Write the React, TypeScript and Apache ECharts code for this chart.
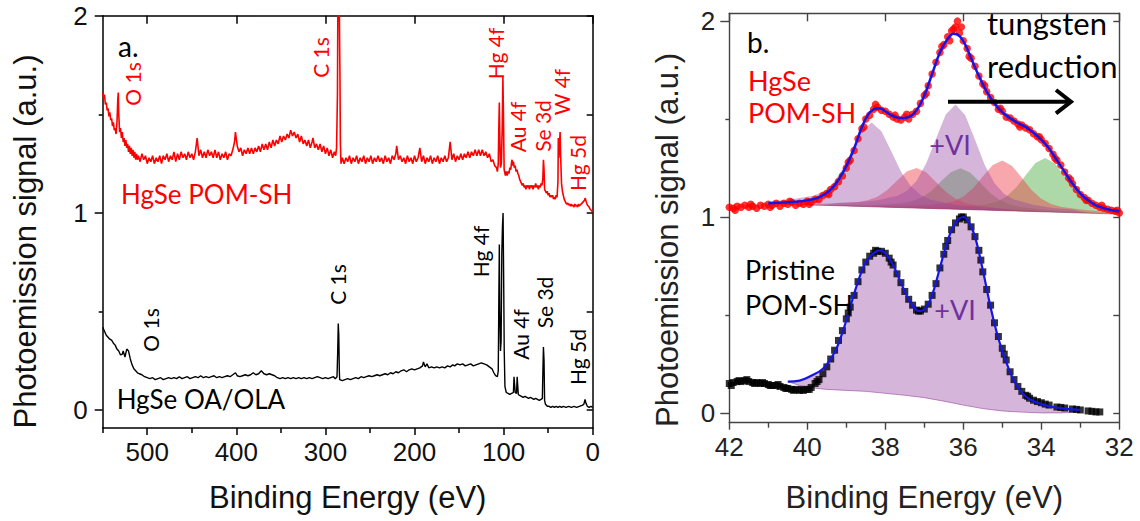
import React, { useEffect, useRef } from "react";
import * as echarts from "echarts";

// ---------- Panel a: survey spectra (binding energy eV, signal a.u.) ----------
const surveyPOM: [number, number][] = [
  [550,1.61],[549,1.58],[548,1.60],[547,1.55],[546,1.56],[545,1.52],[544,1.53],[543,1.49],[542,1.51],[541,1.47],[540,1.48],[539,1.44],[538,1.46],[537,1.42],[536,1.43],[535,1.40],[534,1.46],[533,1.58],[532.5,1.61],[532,1.50],[531,1.41],[530,1.43],[529,1.38],[528,1.41],[527,1.36],[526,1.38],[525,1.34],[524,1.37],[523,1.33],[522,1.35],[521,1.31],[520,1.34],[519,1.30],[518,1.33],[517,1.29],[516,1.32],[515,1.28],[514,1.31],[513,1.27],[512,1.30],[511,1.27],[510,1.29],[508,1.26],[506,1.30],[504,1.27],[502,1.29],[500,1.25],[498,1.28],[496,1.26],[494,1.29],[492,1.25],[490,1.28],[488,1.26],[486,1.29],[484,1.25],[482,1.29],[480,1.27],[478,1.30],[476,1.26],[474,1.29],[472,1.27],[470,1.31],[468,1.26],[466,1.30],[464,1.27],[462,1.31],[460,1.28],[458,1.30],[456,1.27],[454,1.31],[452,1.28],[450,1.30],[448,1.27],[446,1.31],[444,1.38],[442,1.29],[440,1.32],[438,1.28],[436,1.31],[434,1.28],[432,1.32],[430,1.29],[428,1.31],[426,1.28],[424,1.32],[422,1.28],[420,1.31],[418,1.27],[416,1.30],[414,1.28],[412,1.31],[410,1.27],[408,1.30],[406,1.29],[404,1.32],[402,1.36],[401,1.41],[399,1.34],[397,1.31],[395,1.33],[393,1.29],[391,1.32],[389,1.30],[387,1.33],[385,1.30],[383,1.33],[381,1.30],[379,1.33],[377,1.31],[375,1.34],[373,1.31],[371,1.35],[369,1.32],[367,1.35],[365,1.32],[363,1.36],[361,1.33],[359,1.37],[357,1.34],[355,1.37],[353,1.35],[351,1.39],[349,1.36],[347,1.39],[345,1.37],[343,1.40],[341,1.38],[339,1.42],[337,1.39],[335,1.41],[333,1.38],[331,1.40],[329,1.36],[327,1.39],[325,1.35],[323,1.37],[321,1.34],[319,1.37],[317,1.33],[315,1.36],[314,1.38],[312,1.33],[310,1.35],[308,1.32],[306,1.35],[304,1.31],[302,1.34],[300,1.30],[298,1.33],[296,1.29],[294,1.32],[292,1.28],[290,1.31],[288.5,1.29],[287.5,1.33],[286.5,1.6],[285.8,2.3],[285,2.3],[284.3,2.3],[283.7,1.7],[283.2,1.35],[282.5,1.25],[281,1.28],[279,1.25],[277,1.28],[275,1.26],[273,1.29],[271,1.25],[269,1.28],[267,1.26],[265,1.29],[263,1.25],[261,1.28],[259,1.26],[257,1.29],[255,1.25],[253,1.28],[251,1.26],[249,1.29],[247,1.25],[245,1.28],[243,1.26],[241,1.29],[239,1.26],[237,1.28],[235,1.25],[233,1.29],[231,1.26],[229,1.28],[227,1.25],[225,1.29],[223,1.27],[221,1.30],[220,1.34],[218,1.27],[216,1.29],[214,1.26],[212,1.28],[210,1.25],[208,1.29],[206,1.26],[204,1.28],[202,1.25],[200,1.29],[198,1.26],[196,1.28],[194,1.33],[192,1.26],[190,1.29],[188,1.25],[186,1.28],[184,1.26],[182,1.29],[180,1.25],[178,1.28],[176,1.26],[174,1.29],[172,1.25],[170,1.28],[168,1.26],[166,1.29],[164,1.26],[162,1.28],[160,1.36],[158,1.27],[156,1.30],[154,1.26],[152,1.29],[150,1.27],[148,1.30],[146,1.27],[144,1.30],[142,1.28],[140,1.31],[138,1.28],[136,1.31],[134,1.29],[132,1.32],[130,1.29],[128,1.32],[126,1.29],[124,1.32],[122,1.29],[120,1.31],[118,1.28],[116,1.30],[114,1.26],[112,1.27],[110,1.24],[108,1.23],[107,1.21],[106,1.25],[105.3,1.45],[104.8,1.56],[104.3,1.40],[103.5,1.23],[102.5,1.25],[101.5,1.45],[100.8,1.69],[100.2,1.50],[99.4,1.22],[98,1.19],[97,1.21],[96,1.19],[95,1.21],[94,1.20],[93,1.23],[92,1.22],[91,1.26],[90.5,1.27],[90,1.24],[89,1.26],[88,1.23],[87,1.24],[86,1.21],[85,1.22],[84,1.20],[83,1.19],[82,1.17],[81,1.16],[80,1.15],[79,1.14],[78,1.15],[77,1.13],[76,1.14],[75,1.12],[74,1.14],[73,1.13],[72,1.14],[71,1.12],[70,1.14],[69,1.13],[68,1.14],[67,1.12],[66,1.14],[65,1.13],[64,1.15],[63,1.13],[62,1.14],[61,1.12],[60,1.14],[59,1.13],[58,1.15],[57,1.14],[56,1.17],[55.3,1.27],[54.6,1.22],[54,1.12],[53,1.11],[52,1.10],[51,1.11],[50,1.09],[49,1.10],[48,1.08],[47,1.09],[46,1.08],[45,1.09],[44,1.07],[43,1.08],[42,1.07],[41,1.09],[40,1.08],[39,1.16],[38.6,1.38],[38,1.28],[37.2,1.36],[36.6,1.41],[36,1.29],[35,1.15],[34,1.11],[33,1.09],[32,1.07],[31,1.06],[30,1.05],[29,1.045],[28,1.05],[27,1.04],[26,1.045],[25,1.035],[24,1.045],[23,1.035],[22,1.04],[21,1.03],[20,1.045],[19,1.035],[18,1.04],[17,1.03],[16,1.045],[15,1.035],[14,1.04],[13,1.045],[12,1.05],[11,1.055],[10,1.06],[9,1.065],[8.6,1.075],[8,1.07],[7.5,1.06],[6,1.04],[5,1.035],[4,1.03],[3,1.02],[2,1.015],[1,1.01],[0,1.005],
];

const surveyOA: [number, number][] = [
  [550,0.42],[548,0.40],[546,0.38],[544,0.37],[542,0.36],[540,0.355],[538,0.34],[536,0.33],[534,0.31],[532,0.30],[530,0.28],[528,0.285],[527,0.30],[525,0.27],[523,0.31],[521,0.30],[519,0.26],[517,0.23],[515,0.21],[513,0.20],[511,0.19],[509,0.185],[506,0.18],[503,0.17],[500,0.165],[497,0.16],[494,0.165],[491,0.155],[488,0.16],[485,0.165],[482,0.155],[479,0.16],[476,0.165],[473,0.16],[470,0.165],[467,0.16],[464,0.17],[461,0.16],[458,0.165],[455,0.17],[452,0.16],[449,0.165],[446,0.17],[443,0.165],[440,0.175],[437,0.165],[434,0.17],[431,0.165],[428,0.17],[425,0.175],[422,0.165],[419,0.17],[416,0.165],[413,0.17],[410,0.175],[407,0.17],[404,0.18],[401,0.19],[399,0.175],[396,0.17],[393,0.175],[390,0.18],[387,0.175],[384,0.18],[381,0.19],[378,0.18],[375,0.185],[372,0.2],[369,0.185],[366,0.18],[363,0.185],[360,0.18],[357,0.175],[354,0.165],[351,0.16],[348,0.165],[345,0.16],[342,0.165],[339,0.16],[336,0.165],[333,0.16],[330,0.165],[327,0.16],[324,0.165],[321,0.16],[318,0.165],[315,0.16],[312,0.165],[309,0.17],[306,0.165],[303,0.16],[300,0.165],[297,0.16],[294,0.165],[291,0.17],[289,0.16],[287,0.17],[286.2,0.30],[285.6,0.44],[285,0.38],[284.4,0.2],[284,0.155],[281,0.15],[278,0.155],[275,0.16],[272,0.155],[269,0.16],[266,0.165],[263,0.16],[260,0.17],[257,0.165],[254,0.17],[251,0.175],[248,0.17],[245,0.175],[242,0.18],[239,0.175],[236,0.18],[233,0.185],[230,0.18],[227,0.19],[224,0.185],[221,0.195],[218,0.19],[215,0.2],[212,0.205],[209,0.195],[206,0.205],[203,0.21],[200,0.205],[197,0.21],[194,0.215],[191,0.225],[190,0.245],[188,0.22],[186,0.235],[184,0.215],[181,0.22],[178,0.215],[175,0.22],[172,0.215],[169,0.22],[166,0.215],[163,0.225],[160,0.22],[157,0.23],[155,0.225],[152,0.235],[149,0.23],[146,0.235],[143,0.225],[140,0.23],[137,0.235],[134,0.225],[131,0.23],[128,0.235],[125,0.24],[122,0.235],[119,0.23],[116,0.22],[113,0.21],[111,0.19],[109,0.175],[107,0.17],[106,0.2],[105.3,0.6],[104.8,0.84],[104.3,0.5],[103.5,0.3],[102.8,0.35],[102,0.8],[101.3,0.93],[100.6,1.0],[100,0.7],[99.3,0.3],[98.5,0.12],[97,0.09],[95,0.085],[93,0.08],[91,0.085],[89,0.09],[88.3,0.17],[87.7,0.17],[87,0.09],[85.5,0.085],[84.8,0.17],[84.2,0.17],[83.5,0.08],[82,0.075],[80,0.07],[78,0.065],[76,0.07],[74,0.065],[72,0.06],[70,0.065],[68,0.06],[66,0.055],[64,0.06],[62,0.055],[60,0.05],[58,0.055],[56.5,0.06],[56,0.18],[55.3,0.32],[54.6,0.25],[54,0.05],[53,0.03],[51,0.02],[49,0.02],[47,0.015],[45,0.02],[43,0.015],[41,0.02],[39,0.015],[37,0.02],[35,0.015],[33,0.02],[30,0.015],[27,0.02],[24,0.015],[21,0.02],[18,0.015],[15,0.02],[12,0.025],[10,0.03],[8.6,0.055],[7.5,0.035],[6,0.02],[4,0.015],[2,0.02],[0,0.015],
];

// ---------- Panel b: W 4f region ----------
const w4fPOMData: [number, number][] = [
  [42.0,1.05],[41.9,1.045],[41.8,1.055],[41.7,1.05],[41.6,1.06],[41.5,1.05],[41.4,1.055],[41.3,1.045],[41.2,1.06],[41.1,1.055],[41.0,1.065],[40.9,1.06],[40.8,1.07],[40.7,1.055],[40.6,1.07],[40.5,1.065],[40.4,1.075],[40.3,1.06],[40.2,1.07],[40.1,1.065],[40.0,1.08],[39.9,1.075],[39.8,1.09],[39.7,1.09],[39.6,1.11],[39.5,1.12],[39.4,1.14],[39.3,1.155],[39.2,1.18],[39.1,1.21],[39.0,1.25],[38.9,1.29],[38.8,1.34],[38.7,1.40],[38.6,1.45],[38.5,1.50],[38.4,1.52],[38.3,1.55],[38.2,1.56],[38.1,1.545],[38.0,1.54],[37.9,1.525],[37.8,1.51],[37.7,1.50],[37.6,1.495],[37.5,1.51],[37.4,1.50],[37.3,1.525],[37.2,1.54],[37.1,1.58],[37.0,1.62],[36.9,1.67],[36.8,1.73],[36.7,1.79],[36.6,1.84],[36.5,1.88],[36.4,1.92],[36.35,1.90],[36.3,1.95],[36.25,1.96],[36.2,1.97],[36.15,2.0],[36.1,1.94],[36.05,1.97],[36.0,1.90],[35.9,1.86],[35.8,1.81],[35.7,1.77],[35.6,1.72],[35.5,1.68],[35.4,1.64],[35.3,1.61],[35.2,1.585],[35.1,1.55],[35.0,1.54],[34.9,1.51],[34.8,1.505],[34.7,1.49],[34.6,1.475],[34.5,1.47],[34.4,1.455],[34.3,1.445],[34.2,1.425],[34.1,1.41],[34.0,1.395],[33.9,1.375],[33.8,1.35],[33.7,1.32],[33.6,1.29],[33.5,1.265],[33.4,1.23],[33.3,1.20],[33.2,1.17],[33.1,1.14],[33.0,1.115],[32.9,1.10],[32.8,1.085],[32.7,1.07],[32.6,1.06],[32.5,1.05],[32.4,1.045],[32.3,1.04],[32.2,1.035],[32.1,1.03],[32.0,1.02],
  [41.85,1.035],[41.45,1.065],[40.95,1.05],[40.45,1.08],[39.95,1.065],[39.45,1.115],[38.95,1.28],[38.55,1.46],[38.25,1.575],[37.75,1.52],[37.45,1.525],[36.95,1.63],[36.55,1.87],[35.85,1.82],[35.45,1.67],[35.05,1.555],[34.55,1.46],[34.05,1.41],[33.65,1.30],[33.25,1.19],[32.85,1.085],[32.45,1.06],[32.05,1.035],
];

const w4fPOMFit: [number, number][] = [
  [41.0,1.07],[40.5,1.075],[40.0,1.085],[39.7,1.10],[39.4,1.14],[39.2,1.19],[39.0,1.26],[38.8,1.35],[38.6,1.46],[38.45,1.52],[38.3,1.55],[38.15,1.555],[38.0,1.54],[37.8,1.515],[37.6,1.505],[37.4,1.51],[37.2,1.545],[37.0,1.62],[36.8,1.73],[36.6,1.84],[36.4,1.91],[36.25,1.935],[36.1,1.925],[35.95,1.88],[35.8,1.81],[35.6,1.72],[35.4,1.64],[35.2,1.58],[35.0,1.535],[34.8,1.505],[34.6,1.48],[34.4,1.46],[34.2,1.43],[34.0,1.395],[33.8,1.35],[33.6,1.29],[33.4,1.23],[33.2,1.17],[33.0,1.12],[32.8,1.085],[32.6,1.06],[32.4,1.045],[32.2,1.035],[32.0,1.03],
];

const w4fPOMBaseline: [number, number][] = [[40.5,1.065],[32.0,1.015]];

// fitted components (absolute values incl. background)
const compW6a: [number, number][] = [[41.0,1.068],[40.85,1.082],[40.35,1.092],[39.85,1.108],[39.6,1.129],[39.35,1.170],[39.1,1.242],[38.85,1.343],[38.6,1.441],[38.35,1.482],[38.1,1.438],[37.85,1.337],[37.6,1.233],[37.35,1.158],[37.1,1.114],[36.85,1.090],[36.35,1.068],[35.85,1.054],[35.35,1.047],[34.85,1.040],[34.5,1.030]];
const compW6b: [number, number][] = [[39.6,1.060],[39.2,1.073],[38.7,1.075],[38.2,1.086],[37.7,1.107],[37.45,1.133],[37.2,1.184],[36.95,1.274],[36.7,1.400],[36.45,1.523],[36.2,1.575],[35.95,1.520],[35.7,1.395],[35.45,1.265],[35.2,1.173],[34.95,1.118],[34.7,1.090],[34.2,1.063],[33.7,1.046],[33.2,1.038],[32.8,1.020]];
const compW5a: [number, number][] = [[40.6,1.065],[40.2,1.069],[39.7,1.068],[39.2,1.070],[38.7,1.077],[38.45,1.086],[38.2,1.104],[37.95,1.138],[37.7,1.185],[37.45,1.232],[37.2,1.250],[36.95,1.229],[36.7,1.179],[36.45,1.129],[36.2,1.093],[35.95,1.071],[35.7,1.060],[35.2,1.047],[34.7,1.039],[34.2,1.034],[33.8,1.026]];
const compW5b: [number, number][] = [[38.4,1.053],[38.0,1.058],[37.5,1.057],[37.0,1.061],[36.5,1.069],[36.25,1.081],[36.0,1.105],[35.75,1.147],[35.5,1.207],[35.25,1.264],[35.0,1.288],[34.75,1.261],[34.5,1.201],[34.25,1.138],[34.0,1.093],[33.75,1.066],[33.5,1.052],[33.0,1.038],[32.5,1.028],[32.0,1.023],[32.0,1.015]];
const compW4a: [number, number][] = [[39.5,1.059],[39.07,1.062],[38.57,1.061],[38.07,1.064],[37.57,1.070],[37.32,1.080],[37.07,1.099],[36.82,1.133],[36.57,1.182],[36.32,1.229],[36.07,1.249],[35.82,1.226],[35.57,1.177],[35.32,1.124],[35.07,1.088],[34.82,1.065],[34.57,1.053],[34.07,1.041],[33.57,1.032],[33.07,1.027],[32.6,1.019]];
const compW4b: [number, number][] = [[37.3,1.047],[36.9,1.052],[36.4,1.052],[35.9,1.056],[35.4,1.065],[35.15,1.078],[34.9,1.104],[34.65,1.149],[34.4,1.213],[34.15,1.276],[33.9,1.301],[33.65,1.273],[33.4,1.207],[33.15,1.140],[32.9,1.092],[32.65,1.063],[32.4,1.047],[32.0,1.035],[32.0,1.015]];

const w4fPristineData: [number, number][] = [
  [42.0,0.15],[41.9,0.155],[41.8,0.16],[41.7,0.16],[41.6,0.165],[41.5,0.16],[41.4,0.155],[41.3,0.155],[41.2,0.15],[41.1,0.15],[41.0,0.145],[40.9,0.14],[40.8,0.14],[40.7,0.135],[40.6,0.13],[40.5,0.125],[40.4,0.12],[40.3,0.12],[40.2,0.115],[40.1,0.115],[40.0,0.12],[39.9,0.13],[39.8,0.15],[39.7,0.17],[39.6,0.20],[39.5,0.235],[39.4,0.275],[39.3,0.32],[39.2,0.37],[39.1,0.42],[39.0,0.48],[38.9,0.54],[38.8,0.60],[38.7,0.67],[38.6,0.73],[38.5,0.77],[38.4,0.80],[38.3,0.815],[38.2,0.825],[38.1,0.825],[38.0,0.815],[37.9,0.79],[37.8,0.755],[37.7,0.71],[37.6,0.665],[37.5,0.62],[37.4,0.58],[37.3,0.55],[37.2,0.525],[37.1,0.52],[37.0,0.53],[36.9,0.555],[36.8,0.60],[36.7,0.66],[36.6,0.74],[36.5,0.81],[36.4,0.88],[36.3,0.935],[36.2,0.97],[36.1,0.99],[36.0,1.0],[35.9,0.985],[35.8,0.95],[35.7,0.90],[35.6,0.83],[35.5,0.72],[35.4,0.63],[35.3,0.55],[35.2,0.46],[35.1,0.39],[35.0,0.33],[34.9,0.27],[34.8,0.21],[34.7,0.17],[34.6,0.135],[34.5,0.11],[34.4,0.09],[34.3,0.075],[34.2,0.065],[34.1,0.058],[34.0,0.052],[33.8,0.04],[33.6,0.03],[33.4,0.025],[33.2,0.02],[33.0,0.015],[32.8,0.01],[32.6,0.005],[32.5,0.005],
  [41.95,0.14],[41.75,0.165],[41.55,0.17],[41.35,0.15],[41.15,0.155],[40.95,0.14],[40.75,0.145],[40.55,0.125],[40.35,0.115],[40.15,0.12],[39.95,0.12],[39.75,0.16],[38.95,0.51],[38.25,0.83],[37.85,0.77],[37.15,0.52],[36.45,0.85],[36.05,1.0],[35.55,0.78],[34.95,0.30],[34.35,0.085],[33.9,0.045],[33.5,0.028],[33.1,0.018],[32.7,0.008],
];

const w4fPristineFit: [number, number][] = [
  [40.5,0.16],[40.2,0.165],[39.9,0.19],[39.6,0.225],[39.3,0.31],[39.1,0.41],[38.9,0.54],[38.7,0.67],[38.5,0.77],[38.3,0.815],[38.15,0.83],[38.0,0.815],[37.8,0.755],[37.6,0.665],[37.4,0.58],[37.2,0.525],[37.1,0.52],[36.95,0.54],[36.8,0.60],[36.6,0.74],[36.4,0.88],[36.2,0.97],[36.0,1.0],[35.85,0.97],[35.7,0.90],[35.5,0.73],[35.3,0.54],[35.1,0.38],[34.9,0.26],[34.7,0.165],[34.5,0.105],[34.3,0.07],[34.0,0.045],[33.7,0.03],[33.4,0.022],[33.0,0.015],
];

const w4fPristineBaseline: [number, number][] = [
  [40.5,0.16],[40.2,0.14],[39.9,0.128],[39.5,0.12],[39.0,0.115],[38.5,0.11],[38.0,0.10],[37.5,0.09],[37.0,0.078],[36.5,0.06],[36.0,0.04],[35.5,0.022],[35.0,0.01],[34.5,0.004],[34.0,0.0],[33.5,0.0],[33.0,0.005],
];

// axis tick values
const surveyMajorTicks = [0, 100, 200, 300, 400, 500];
const surveyMinorTicks = [50, 150, 250, 350, 450, 550];
const w4fMajorTicks = [32, 34, 36, 38, 40, 42];
const w4fMinorTicks = [33, 35, 37, 39, 41];
const yMajorTicks = [0, 1, 2];
const yMinorTicks = [0.5, 1.5];
const yAllTicks = [0, 0.5, 1, 1.5, 2];

const PURPLE = "rgba(150,70,160,0.4)";
const RED_FILL = "rgba(240,60,70,0.45)";
const GREEN_FILL = "rgba(70,170,60,0.45)";

// drawn in this order: green, red, purple (purple on top)
const components = [
  { pts: compW4a, fill: GREEN_FILL },
  { pts: compW4b, fill: GREEN_FILL },
  { pts: compW5a, fill: RED_FILL },
  { pts: compW5b, fill: RED_FILL },
  { pts: compW6a, fill: PURPLE },
  { pts: compW6b, fill: PURPLE },
  { pts: [...w4fPristineFit, ...w4fPristineBaseline.slice().reverse()], fill: PURPLE },
];

const AXIS_FONT = "'Liberation Sans', Arial, sans-serif";
const NOTE_FONT = "Lato, 'Open Sans', sans-serif";

function App() {
  const ref = useRef<HTMLDivElement>(null);

  useEffect(() => {
    if (!ref.current) return;
    const chart = echarts.init(ref.current, undefined, { renderer: "svg" });

    const frameA = { lineStyle: { color: "#000", width: 1.5 } };
    const frameB = { lineStyle: { color: "#444", width: 1.4 } };
    const lbl = (vals: number[], color: string) => ({
      show: true,
      customValues: vals,
      fontSize: 26,
      fontFamily: AXIS_FONT,
      color,
    });

    const xAxes: any[] = [
      { gridIndex: 0, type: "value", min: 0, max: 550, inverse: true, position: "bottom",
        axisLine: { show: true, onZero: false, ...frameA },
        axisTick: { show: true, customValues: surveyMajorTicks, length: 7, ...frameA },
        axisLabel: { ...lbl(surveyMajorTicks, "#111"), margin: 11 },
        splitLine: { show: false } },
      { gridIndex: 0, type: "value", min: 0, max: 550, inverse: true, position: "bottom",
        axisLine: { show: false, onZero: false },
        axisTick: { show: true, customValues: surveyMinorTicks, length: 5, ...frameA },
        axisLabel: { show: false }, splitLine: { show: false } },
      { gridIndex: 0, type: "value", min: 0, max: 550, inverse: true, position: "top",
        axisLine: { show: true, onZero: false, ...frameA },
        axisTick: { show: true, inside: true, customValues: surveyMajorTicks, length: 8, ...frameA },
        axisLabel: { show: false }, splitLine: { show: false } },
      { gridIndex: 1, type: "value", min: 32, max: 42, inverse: true, position: "bottom",
        axisLine: { show: true, onZero: false, ...frameB },
        axisTick: { show: true, customValues: w4fMajorTicks, length: 7, ...frameB },
        axisLabel: { ...lbl(w4fMajorTicks, "#222"), margin: 11 },
        splitLine: { show: false } },
      { gridIndex: 1, type: "value", min: 32, max: 42, inverse: true, position: "bottom",
        axisLine: { show: false, onZero: false },
        axisTick: { show: true, customValues: w4fMinorTicks, length: 5, ...frameB },
        axisLabel: { show: false }, splitLine: { show: false } },
      { gridIndex: 1, type: "value", min: 32, max: 42, inverse: true, position: "top",
        axisLine: { show: true, onZero: false, ...frameB },
        axisTick: { show: true, inside: true, customValues: w4fMajorTicks, length: 8, ...frameB },
        axisLabel: { show: false }, splitLine: { show: false } },
    ];

    const yAxes: any[] = [
      { gridIndex: 0, type: "value", min: -0.09, max: 2, position: "left",
        axisLine: { show: true, onZero: false, ...frameA },
        axisTick: { show: true, customValues: yMajorTicks, length: 8, ...frameA },
        axisLabel: { ...lbl(yMajorTicks, "#111"), margin: 15 },
        splitLine: { show: false } },
      { gridIndex: 0, type: "value", min: -0.09, max: 2, position: "left",
        axisLine: { show: false, onZero: false },
        axisTick: { show: true, customValues: yMinorTicks, length: 4, ...frameA },
        axisLabel: { show: false }, splitLine: { show: false } },
      { gridIndex: 0, type: "value", min: -0.09, max: 2, position: "right",
        axisLine: { show: true, onZero: false, ...frameA },
        axisTick: { show: true, inside: true, customValues: yAllTicks, length: 6, ...frameA },
        axisLabel: { show: false }, splitLine: { show: false } },
      { gridIndex: 1, type: "value", min: -0.05, max: 2.04, position: "left",
        axisLine: { show: true, onZero: false, ...frameB },
        axisTick: { show: true, customValues: yMajorTicks, length: 9, ...frameB },
        axisLabel: { ...lbl(yMajorTicks, "#222"), margin: 14 },
        splitLine: { show: false } },
      { gridIndex: 1, type: "value", min: -0.05, max: 2.04, position: "left",
        axisLine: { show: false, onZero: false },
        axisTick: { show: true, customValues: yMinorTicks, length: 4, ...frameB },
        axisLabel: { show: false }, splitLine: { show: false } },
      { gridIndex: 1, type: "value", min: -0.05, max: 2.04, position: "right",
        axisLine: { show: true, onZero: false, ...frameB },
        axisTick: { show: true, inside: true, customValues: yAllTicks, length: 6, ...frameB },
        axisLabel: { show: false }, splitLine: { show: false } },
    ];

    const note = (text: string, x: number, y: number, fill: string, size: number, extra: any = {}) => ({
      type: "text",
      x,
      y,
      z: 100,
      style: {
        text,
        fill,
        font: `${size}px ${NOTE_FONT}`,
        align: extra.align || "left",
        verticalAlign: "middle",
      },
      rotation: extra.rotation || 0,
    });
    const peak = (text: string, x: number, y: number, fill: string) =>
      note(text, x, y, fill, 21, { align: "center", rotation: Math.PI / 2 });

    const graphics: any[] = [
      { type: "text", x: 347.7, y: 497, style: { text: "Binding Energy (eV)", fill: "#111", font: `31px ${AXIS_FONT}`, align: "center", verticalAlign: "middle" } },
      { type: "text", x: 924.3, y: 497, style: { text: "Binding Energy (eV)", fill: "#222", font: `31px ${AXIS_FONT}`, align: "center", verticalAlign: "middle" } },
      { type: "text", x: 25, y: 241.5, rotation: Math.PI / 2, style: { text: "Photoemission signal (a.u.)", fill: "#111", font: `31px ${AXIS_FONT}`, align: "center", verticalAlign: "middle" } },
      { type: "text", x: 667, y: 240, rotation: Math.PI / 2, style: { text: "Photoemission signal (a.u.)", fill: "#222", font: `31px ${AXIS_FONT}`, align: "center", verticalAlign: "middle" } },
      note("a.", 118, 46, "#000", 28),
      note("HgSe POM-SH", 121, 194, "#ff0000", 26),
      note("HgSe OA/OLA", 116.7, 399, "#000", 26),
      peak("O 1s", 132.5, 84, "#ff0000"),
      peak("C 1s", 320.5, 57.5, "#ff0000"),
      peak("Hg 4f", 495.5, 53.5, "#ff0000"),
      peak("Au 4f", 517.5, 127, "#ff0000"),
      peak("Se 3d", 542.5, 126, "#ff0000"),
      peak("W 4f", 561, 92, "#ff0000"),
      peak("Hg 5d", 577.5, 163, "#ff0000"),
      peak("O 1s", 150.5, 330, "#000"),
      peak("C 1s", 337.5, 284.5, "#000"),
      peak("Hg 4f", 480.5, 251.5, "#000"),
      peak("Au 4f", 520.5, 334.5, "#000"),
      peak("Se 3d", 544.5, 302.5, "#000"),
      peak("Hg 5d", 577.5, 357, "#000"),
      note("b.", 747, 42, "#000", 28),
      note("tungsten", 987, 23, "#000", 31),
      note("reduction", 987, 66, "#000", 31),
      note("HgSe", 748, 80, "#ff0000", 27),
      note("POM-SH", 748, 112, "#ff0000", 27),
      note("+VI", 950, 144.5, "#7030a0", 27, { align: "center" }),
      note("Pristine", 745, 269, "#000", 27),
      note("POM-SH", 745, 304, "#000", 27),
      note("+VI", 955, 309, "#7030a0", 27, { align: "center" }),
      { type: "line", z: 100, shape: { x1: 948, y1: 101.7, x2: 1069, y2: 101.7 }, style: { stroke: "#000", lineWidth: 4 } },
      { type: "polyline", z: 100, shape: { points: [[1056, 90], [1071, 101.7], [1056, 113.4]] }, style: { stroke: "#000", lineWidth: 4, fill: "none" } },
    ];

    const option: any = {
      animation: false,
      backgroundColor: "#fff",
      grid: [
        { left: 102.7, top: 15.7, width: 490, height: 412.3, containLabel: false, outerBoundsMode: "none" },
        { left: 729.3, top: 13.3, width: 390, height: 409.4, containLabel: false, outerBoundsMode: "none" },
      ],
      xAxis: xAxes,
      yAxis: yAxes,
      series: [
        { type: "line", xAxisIndex: 0, yAxisIndex: 0, data: surveyPOM, showSymbol: false, symbol: "none",
          lineStyle: { color: "#ff0000", width: 1.6 }, clip: true, z: 3 },
        { type: "line", xAxisIndex: 0, yAxisIndex: 0, data: surveyOA, showSymbol: false, symbol: "none",
          lineStyle: { color: "#000", width: 1.4 }, clip: true, z: 3 },
        {
          type: "custom", coordinateSystem: "cartesian2d", xAxisIndex: 3, yAxisIndex: 3, z: 1,
          data: components.map((c) => c.pts[0]),
          renderItem: (params: any, api: any) => {
            const comp = components[params.dataIndex];
            return {
              type: "polygon",
              shape: { points: comp.pts.map((p) => api.coord(p)) },
              style: { fill: comp.fill, stroke: "none" },
            };
          },
        },
        { type: "line", xAxisIndex: 3, yAxisIndex: 3, data: w4fPOMBaseline, showSymbol: false, symbol: "none",
          lineStyle: { color: "rgba(150,60,110,0.6)", width: 1 }, z: 2 },
        { type: "line", xAxisIndex: 3, yAxisIndex: 3, data: w4fPristineBaseline, showSymbol: false, symbol: "none",
          lineStyle: { color: "rgba(150,70,160,0.6)", width: 1 }, z: 2 },
        { type: "scatter", xAxisIndex: 3, yAxisIndex: 3, data: w4fPOMData, symbol: "circle", symbolSize: 7.5,
          itemStyle: { color: "#ff0000" }, z: 3 },
        { type: "scatter", xAxisIndex: 3, yAxisIndex: 3, data: w4fPristineData, symbol: "rect", symbolSize: 7,
          itemStyle: { color: "#000" }, z: 3 },
        { type: "line", xAxisIndex: 3, yAxisIndex: 3, data: w4fPOMFit, showSymbol: false, symbol: "none", smooth: 0.4,
          lineStyle: { color: "#1515e6", width: 2.5 }, z: 4 },
        { type: "line", xAxisIndex: 3, yAxisIndex: 3, data: w4fPristineFit, showSymbol: false, symbol: "none", smooth: 0.4,
          lineStyle: { color: "#1515e6", width: 2.2 }, z: 4 },
      ],
      graphic: graphics,
    };

    chart.setOption(option);
    return () => chart.dispose();
  }, []);

  return (
    <div
      ref={ref}
      style={{ position: "absolute", left: 0, top: 0, width: 1140, height: 521, background: "#fff" }}
    />
  );
}

export default App;
